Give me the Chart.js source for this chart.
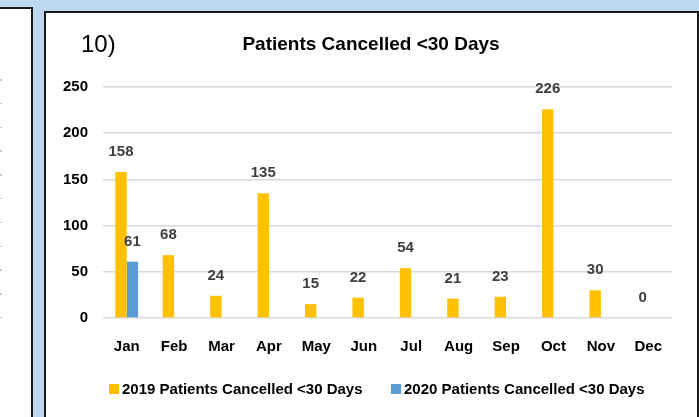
<!DOCTYPE html>
<html>
<head>
<meta charset="utf-8">
<script src="https://cdn.jsdelivr.net/npm/chart.js@4"></script>
<style>
    html, body { margin: 0; padding: 0; }
    body { width: 699px; height: 417px; background: #bdd7ee; position: relative; overflow: hidden; }
    .side-panel { position: absolute; left: -4px; top: 7px; width: 33px; height: 420px; background: #fff; border: 2px solid #1a1a1a; }
    .side-ticks { position: absolute; left: 0; top: 79px; width: 2px; height: 241px;
        background: repeating-linear-gradient(to bottom, #c8c8c8 0px, #c8c8c8 1.5px, transparent 1.5px, transparent 23.8px); }
    .main-panel { position: absolute; left: 44px; top: 11px; width: 651px; height: 420px; background: #fff; border: 2px solid #1a1a1a; }
    #chartWrap { position: absolute; left: 0; top: 0; width: 699px; height: 417px; }
</style>
</head>
<body>
<div class="side-panel"></div>
<div class="side-ticks"></div>
<div class="main-panel"></div>
<div id="chartWrap"><canvas id="cancelChart"></canvas></div>
<script>
// chart data
const months = ['Jan', 'Feb', 'Mar', 'Apr', 'May', 'Jun', 'Jul', 'Aug', 'Sep', 'Oct', 'Nov', 'Dec'];
const cancelled2019 = [158, 68, 24, 135, 15, 22, 54, 21, 23, 226, 30, 0];
const cancelled2020 = [61, null, null, null, null, null, null, null, null, null, null, null];
const yTicks = [0, 50, 100, 150, 200, 250];
const seriesNames = ['2019 Patients Cancelled <30 Days', '2020 Patients Cancelled <30 Days'];
const chartTitle = 'Patients Cancelled <30 Days';
const chartNumber = '10)';

const YELLOW = '#ffc000';
const BLUE = '#5b9bd5';
const FONT = "'Liberation Sans', Arial, sans-serif";

// value labels above bars, title and legend
const decorPlugin = {
    id: 'decor',
    afterDatasetsDraw(chart) {
        const ctx = chart.ctx;
        ctx.save();
        ctx.fillStyle = '#404040';
        ctx.font = 'bold 15px ' + FONT;
        ctx.textAlign = 'center';
        ctx.textBaseline = 'middle';
        chart.data.datasets.forEach((ds, i) => {
            const meta = chart.getDatasetMeta(i);
            meta.data.forEach((bar, j) => {
                const v = ds.data[j];
                if (v === null || v === undefined) return;
                ctx.fillText(String(v), bar.x, bar.y - 20);
            });
        });

        // title
        ctx.fillStyle = '#000';
        ctx.font = 'bold 19px ' + FONT;
        ctx.fillText(chartTitle, 371, 45);
        ctx.font = '24px ' + FONT;
        ctx.textAlign = 'left';
        ctx.fillText(chartNumber, 81, 45);

        // legend
        ctx.font = 'bold 15px ' + FONT;
        const legendX = [109, 391];
        const colors = [YELLOW, BLUE];
        seriesNames.forEach((name, i) => {
            ctx.fillStyle = colors[i];
            ctx.fillRect(legendX[i], 384, 10, 10);
            ctx.fillStyle = '#000';
            ctx.fillText(name, legendX[i] + 13, 390);
        });
        ctx.restore();
    }
};

let cancelChart;

function initCancelChart() {
    const ctx = document.getElementById('cancelChart');
    if (!ctx) return;

    cancelChart = new Chart(ctx, {
        type: 'bar',
        data: {
            labels: months,
            datasets: [
                { label: seriesNames[0], data: cancelled2019, backgroundColor: YELLOW },
                { label: seriesNames[1], data: cancelled2020, backgroundColor: BLUE }
            ]
        },
        options: {
            responsive: true,
            maintainAspectRatio: false,
            animation: false,
            datasets: { bar: { barPercentage: 1, categoryPercentage: 0.48 } },
            layout: { padding: { left: 0, right: 27, top: 87, bottom: 0 } },
            plugins: { legend: { display: false }, tooltip: { enabled: false } },
            scales: {
                x: {
                    grid: { display: false },
                    border: { display: false },
                    ticks: { color: '#000', font: { family: FONT, size: 15, weight: 'bold' }, padding: 12 },
                    afterFit: (scale) => { scale.height = 99; }
                },
                y: {
                    min: 0,
                    max: 250,
                    afterBuildTicks: (scale) => { scale.ticks = yTicks.map(v => ({ value: v })); },
                    grid: { color: '#d9d9d9', lineWidth: 1.5, drawTicks: false },
                    border: { display: false },
                    ticks: { color: '#000', font: { family: FONT, size: 15, weight: 'bold' }, padding: 15 },
                    afterFit: (scale) => { scale.width = 103; }
                }
            }
        },
        plugins: [decorPlugin]
    });
}

document.addEventListener('DOMContentLoaded', () => {
    initCancelChart();
});
</script>
</body>
</html>
